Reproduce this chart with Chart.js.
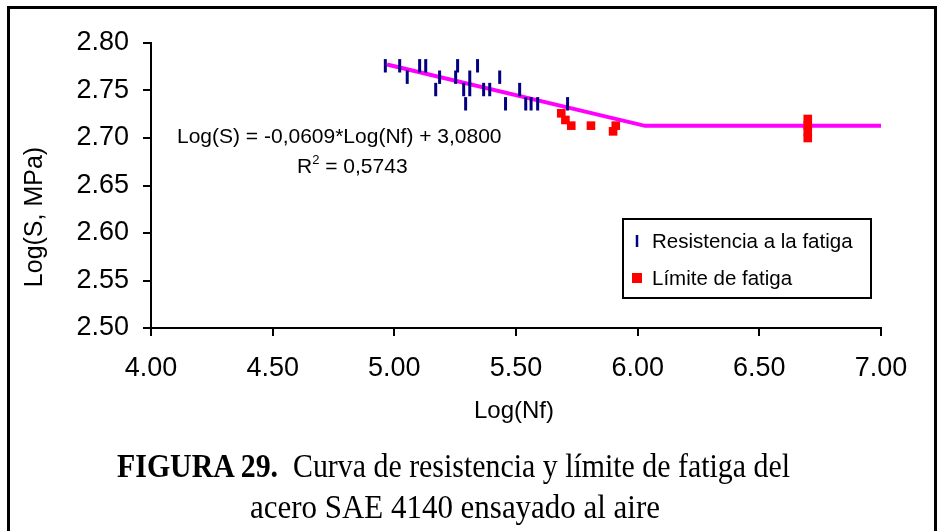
<!DOCTYPE html>
<html><head><meta charset="utf-8">
<script src="https://cdn.jsdelivr.net/npm/chart.js@4.4.0/dist/chart.umd.min.js"></script>
<style>
html,body{margin:0;padding:0;background:#fff;}
#wrap{position:relative;width:938px;height:531px;overflow:hidden;background:#fff;}
#frame{position:absolute;left:7px;top:6px;width:930px;height:540px;border:3px solid #000;box-sizing:border-box;}
#c{position:absolute;left:0;top:0;}
.cap{position:absolute;font-family:'Liberation Serif','Times New Roman',serif;font-size:33px;line-height:33px;white-space:nowrap;transform-origin:left top;color:#000;}
</style></head><body>
<div id="wrap">
<div id="frame"></div>
<canvas id="c" width="938" height="531"></canvas>
<div class="cap" id="cap1" style="left:117px;top:450px;"><b>FIGURA 29.</b>&nbsp; Curva de resistencia y límite de fatiga del</div>
<div class="cap" id="cap2" style="left:250px;top:491px;">acero SAE 4140 ensayado al aire</div>
</div>
<script>
// ---- data ----
const resistLogNf = [4.963, 5.022, 5.053, 5.104, 5.129, 5.170, 5.186, 5.252, 5.260, 5.285, 5.293, 5.310, 5.310, 5.342, 5.367, 5.392, 5.433, 5.457, 5.515, 5.540, 5.562, 5.589, 5.712];
const resistLogS  = [2.776, 2.776, 2.764, 2.776, 2.776, 2.751, 2.764, 2.764, 2.776, 2.751, 2.736, 2.764, 2.751, 2.776, 2.751, 2.751, 2.764, 2.736, 2.751, 2.736, 2.736, 2.736, 2.736];
const limitLogNf = [5.686, 5.703, 5.727, 5.808, 5.899, 5.910, 6.699, 6.699, 6.699, 6.699];
const limitLogS  = [2.726, 2.719, 2.713, 2.713, 2.707, 2.713, 2.720, 2.713, 2.707, 2.700];
const fitLogNf = [4.97, 6.03, 7.00];
const fitLogS  = [2.7773, 2.7128, 2.7128];
const seriesNames = ['Resistencia a la fatiga', 'Límite de fatiga'];
const xTitle = 'Log(Nf)';
const yTitle = 'Log(S, MPa)';
const eqText = 'Log(S) = -0,0609*Log(Nf) + 3,0800';
const r2Text = ' = 0,5743';

const FONT = '"Liberation Sans", Arial, sans-serif';
const pts = (xs, ys) => xs.map((x, i) => ({x: x, y: ys[i]}));

const annot = {
  id: 'annot',
  afterDraw(chart) {
    const ctx = chart.ctx;
    ctx.save();
    ctx.fillStyle = '#000';
    // y title
    ctx.save();
    ctx.font = '25px ' + FONT;
    ctx.translate(35, 217);
    ctx.rotate(-Math.PI / 2);
    ctx.textAlign = 'center'; ctx.textBaseline = 'middle';
    ctx.fillText(yTitle, 0, 0);
    ctx.restore();
    // x title
    ctx.font = '24px ' + FONT;
    ctx.textAlign = 'center'; ctx.textBaseline = 'middle';
    ctx.fillText(xTitle, 514, 411);
    // equation
    ctx.font = '21px ' + FONT;
    ctx.textAlign = 'left';
    ctx.fillText(eqText, 177, 137);
    // R^2
    let x = 297;
    ctx.fillText('R', x, 167);
    x += ctx.measureText('R').width;
    ctx.font = '13px ' + FONT;
    ctx.fillText('2', x, 160);
    x += ctx.measureText('2').width;
    ctx.font = '21px ' + FONT;
    ctx.fillText(r2Text, x, 167);
    // legend
    ctx.lineWidth = 2; ctx.strokeStyle = '#000';
    ctx.strokeRect(623, 219, 248, 79);
    const d0 = chart.data.datasets[0], d1 = chart.data.datasets[1];
    ctx.strokeStyle = d0.borderColor; ctx.lineWidth = 2.5;
    ctx.beginPath(); ctx.moveTo(637, 235); ctx.lineTo(637, 247); ctx.stroke();
    ctx.fillStyle = d1.backgroundColor;
    ctx.fillRect(632, 273, 10, 10);
    ctx.fillStyle = '#000';
    ctx.font = '20.5px ' + FONT;
    ctx.textAlign = 'left'; ctx.textBaseline = 'middle';
    ctx.fillText(d0.label, 652, 242);
    ctx.fillText(d1.label, 652, 279);
    ctx.restore();
  }
};

const axisCommon = {
  ticks: {color: '#000', font: {family: FONT, size: 27}, autoSkip: false, maxRotation: 0},
  grid: {drawOnChartArea: false, drawTicks: true, tickLength: 8, color: '#000', lineWidth: 2},
  border: {display: true, color: '#000', width: 2}
};

new Chart(document.getElementById('c'), {
  type: 'scatter',
  data: {
    datasets: [
      {label: seriesNames[0], data: pts(resistLogNf, resistLogS), order: 0,
       pointStyle: 'line', rotation: 90, radius: 6.7, borderWidth: 3, borderColor: '#000080', backgroundColor: '#000080'},
      {label: seriesNames[1], data: pts(limitLogNf, limitLogS), order: 1,
       pointStyle: 'rect', radius: 6.1, borderWidth: 0, backgroundColor: '#FF0000', borderColor: '#FF0000'},
      {label: 'fit', data: pts(fitLogNf, fitLogS), order: 2, showLine: true,
       pointRadius: 0, borderWidth: 4, borderColor: '#FF00FF', backgroundColor: '#FF00FF', tension: 0}
    ]
  },
  options: {
    responsive: false, animation: false, devicePixelRatio: 1,
    layout: {padding: {left: 0, top: 43, right: 57, bottom: 0}},
    plugins: {legend: {display: false}, tooltip: {enabled: false}},
    scales: {
      x: Object.assign({}, axisCommon, {
        type: 'linear', min: 4, max: 7, position: 'bottom',
        afterFit(s) { s.height = 203; },
        ticks: Object.assign({}, axisCommon.ticks, {stepSize: 0.5, padding: 16, callback: v => Number(v).toFixed(2)})
      }),
      y: Object.assign({}, axisCommon, {
        type: 'linear', min: 2.5, max: 2.8,
        afterFit(s) { s.width = 151; },
        ticks: Object.assign({}, axisCommon.ticks, {stepSize: 0.05, padding: 14, callback: v => Number(v).toFixed(2)})
      })
    }
  },
  plugins: [annot]
});

function fitCap(id, w) {
  const el = document.getElementById(id);
  el.style.transform = 'none';
  const nat = el.getBoundingClientRect().width;
  el.style.transform = 'scaleX(' + (w / nat) + ')';
}
fitCap('cap1', 673);
fitCap('cap2', 410);
</script>
</body></html>
